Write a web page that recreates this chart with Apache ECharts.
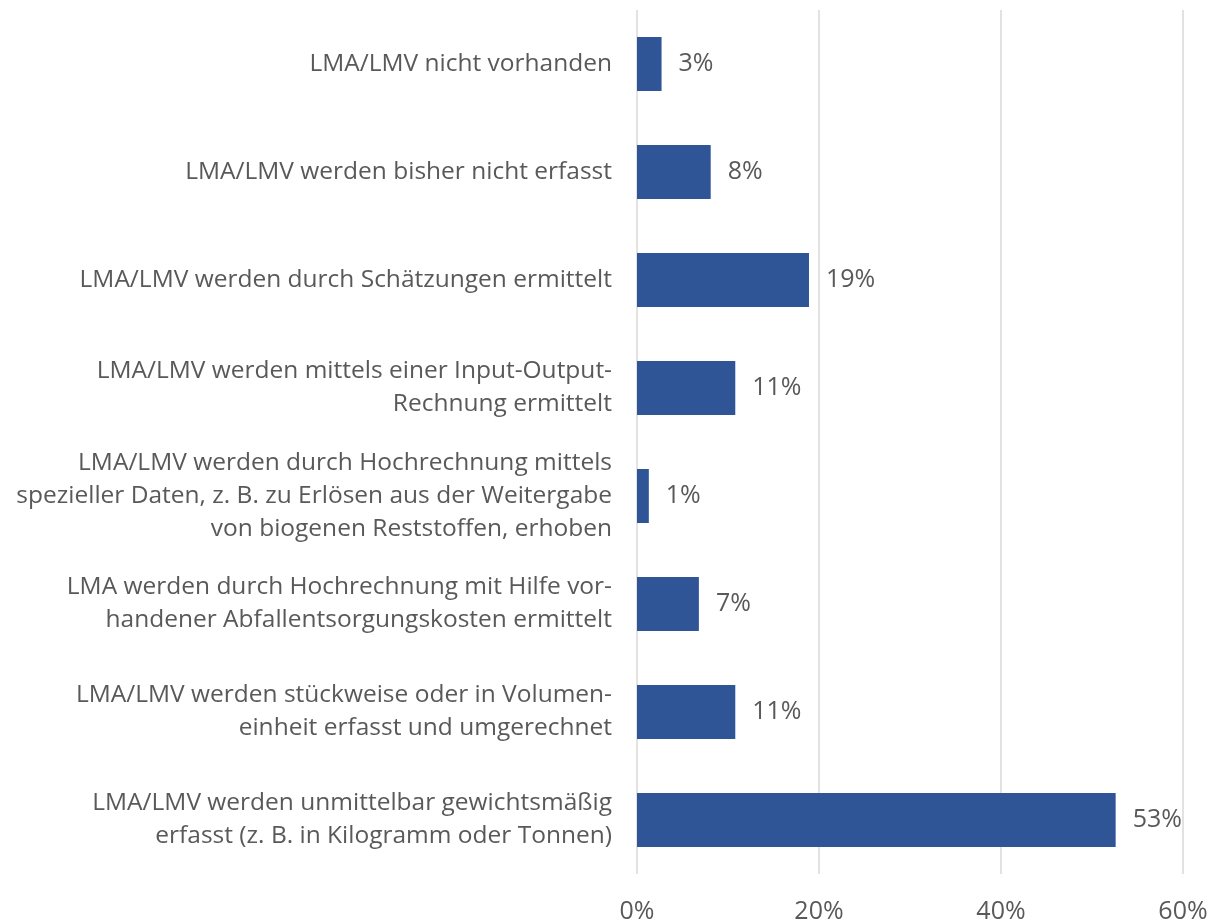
<html>
<head>
<meta charset="utf-8">
<title>ECharts</title>
</head>
<body style="margin:0">
<div id="main" style="width:1218px;height:924px;"></div>
<script src="https://cdn.jsdelivr.net/npm/echarts@6/dist/echarts.min.js"></script>
<script>
// Kategorien von oben nach unten
var categories = [
	'LMA/LMV nicht vorhanden',
	'LMA/LMV werden bisher nicht erfasst',
	'LMA/LMV werden durch Schätzungen ermittelt',
	'LMA/LMV werden mittels einer Input-Output-\nRechnung ermittelt',
	'LMA/LMV werden durch Hochrechnung mittels\nspezieller Daten, z. B. zu Erlösen aus der Weitergabe\nvon biogenen Reststoffen, erhoben',
	'LMA werden durch Hochrechnung mit Hilfe vor-\nhandener Abfallentsorgungskosten ermittelt',
	'LMA/LMV werden stückweise oder in Volumen-\neinheit erfasst und umgerechnet',
	'LMA/LMV werden unmittelbar gewichtsmäßig\nerfasst (z. B. in Kilogramm oder Tonnen)'
];
var values = [2.7, 8.1, 18.9, 10.8, 1.3, 6.8, 10.8, 52.6];
var valueLabels = ['3%', '8%', '19%', '11%', '1%', '7%', '11%', '53%'];
var xTicks = [0, 20, 40, 60];

var textColor = '#595959';
var fontFam = 'Open Sans';

var chart = echarts.init(document.getElementById('main'));

var option = {
	animation: false,
	grid: {left: 637, right: 35, top: 10, bottom: 48, containLabel: false},
	xAxis: {
		type: 'value',
		min: xTicks[0],
		max: xTicks[xTicks.length - 1],
		interval: 20,
		axisLine: {show: false},
		axisTick: {show: false},
		splitLine: {lineStyle: {color: '#d9d9d9', width: 1.5}},
		axisLabel: {
			color: textColor, fontSize: 25, fontFamily: fontFam, margin: 25,
			formatter: function (v) { return v + '%'; }
		}
	},
	yAxis: {
		type: 'category',
		inverse: true,
		data: categories,
		axisLine: {show: false},
		axisTick: {show: false},
		axisLabel: {
			color: textColor, fontSize: 24.5, fontFamily: fontFam, margin: 25,
			lineHeight: 33, align: 'right', padding: [6, 0, 0, 0]
		}
	},
	series: [{
		type: 'bar',
		data: values,
		barCategoryGap: '50%',
		itemStyle: {color: '#2f5597'},
		label: {
			show: true,
			position: 'right',
			distance: 17,
			color: textColor,
			fontSize: 25,
			fontFamily: fontFam,
			padding: [7, 0, 0, 0],
			formatter: function (p) { return valueLabels[p.dataIndex]; }
		}
	}]
};

chart.setOption(option);
</script>
</body>
</html>
